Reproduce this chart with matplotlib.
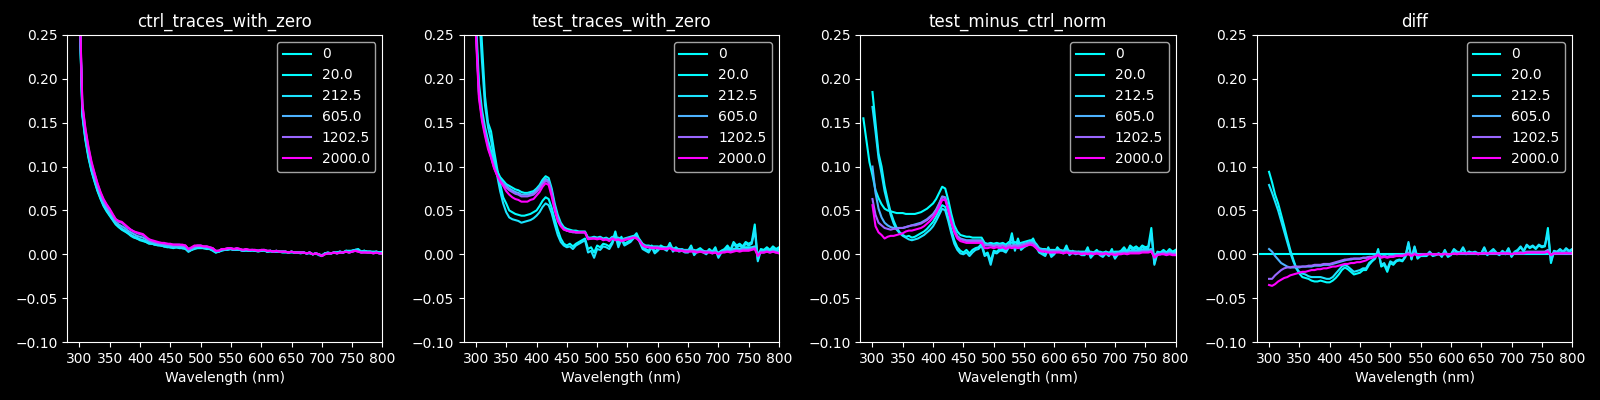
import numpy as np
import matplotlib
matplotlib.use("Agg")
import matplotlib.pyplot as plt

plt.style.use("dark_background")

# concentrations (legend) and wavelength grids
conc = [0, 20.0, 212.5, 605.0, 1202.5, 2000.0]
labels = ["0", "20.0", "212.5", "605.0", "1202.5", "2000.0"]
wl = np.arange(300, 805, 5)        # 300..800 nm
wl_long = np.arange(285, 805, 5)   # 285..800 nm

# all absorbance values below are in units of 1e-3
# ---- ctrl_traces_with_zero ----
c0 = [290, 160, 132, 112, 96, 84, 73, 64, 56, 50,
      45, 40, 35, 31, 29, 27, 24, 22, 20, 18,
      17, 16, 14, 13, 12, 11, 11, 10, 9, 9,
      8, 8, 8, 8, 7, 7, 3, 5, 7, 8,
      8, 7, 7, 6, 5, 2, 3, 5, 5, 6,
      6, 5, 6, 5, 4, 5, 4, 5, 4, 4,
      4, 5, 3, 4, 3, 4, 3, 3, 3, 2,
      3, 2, 2, 2, 2, 1, 2, 0, 1, 0,
      -2, 1, 2, 1, 2, 2, 3, 2, 4, 3,
      4, 5, 5, 3, 4, 3, 3, 2, 3, 2,
      2]
c20 = [285, 158, 130, 110, 95, 83, 72, 63, 55, 49,
       44, 39, 34, 31, 28, 26, 24, 21, 19, 18,
       16, 15, 14, 12, 12, 11, 10, 10, 9, 8,
       8, 7, 8, 7, 7, 6, 3, 5, 6, 7,
       7, 7, 6, 6, 4, 2, 3, 4, 5, 5,
       6, 5, 5, 5, 4, 4, 4, 4, 4, 3,
       4, 4, 3, 3, 3, 3, 3, 2, 2, 2,
       2, 2, 2, 1, 2, 1, 1, 0, 1, -1,
       -2, 1, 1, 1, 2, 2, 3, 2, 4, 4,
       4, 5, 6, 3, 4, 3, 3, 3, 3, 2,
       3]
c212 = [288, 162, 133, 113, 97, 85, 74, 65, 57, 51,
        45, 40, 36, 32, 29, 27, 25, 22, 20, 19,
        17, 16, 15, 13, 12, 11, 11, 10, 9, 9,
        8, 8, 8, 8, 7, 7, 4, 5, 7, 8,
        8, 7, 7, 6, 5, 3, 3, 5, 5, 6,
        6, 5, 6, 5, 4, 5, 4, 5, 4, 4,
        4, 5, 3, 4, 3, 3, 3, 3, 3, 2,
        3, 2, 2, 2, 2, 1, 2, 0, 1, 0,
        -1, 1, 2, 1, 2, 2, 3, 2, 4, 3,
        4, 5, 5, 3, 4, 3, 3, 2, 3, 2,
        2]
c605 = [295, 165, 137, 117, 100, 88, 77, 67, 59, 53,
        48, 43, 37, 34, 32, 30, 27, 25, 23, 21,
        20, 19, 17, 15, 14, 13, 12, 11, 11, 10,
        10, 9, 9, 9, 9, 8, 4, 6, 8, 9,
        9, 8, 8, 7, 6, 3, 4, 5, 5, 6,
        6, 5, 6, 5, 4, 5, 4, 5, 4, 4,
        4, 5, 3, 4, 3, 3, 3, 3, 3, 2,
        3, 2, 2, 2, 2, 1, 2, 0, 1, 0,
        -2, 1, 1, 1, 2, 1, 2, 2, 3, 2,
        3, 4, 4, 2, 3, 2, 2, 2, 2, 1,
        1]
c1202 = [298, 170, 142, 121, 104, 92, 80, 70, 62, 56,
         51, 45, 40, 37, 36, 33, 30, 28, 26, 24,
         23, 22, 19, 17, 15, 14, 13, 13, 12, 12,
         11, 11, 11, 11, 10, 10, 6, 7, 9, 10,
         10, 9, 9, 8, 7, 4, 4, 6, 6, 7,
         7, 6, 7, 6, 5, 6, 5, 5, 5, 4,
         5, 5, 4, 4, 3, 4, 3, 3, 3, 2,
         3, 2, 2, 2, 2, 1, 2, 0, 1, 0,
         -2, 0, 1, 1, 2, 1, 2, 2, 3, 2,
         3, 4, 3, 2, 2, 2, 2, 1, 2, 1,
         1]
c2000 = [300, 172, 144, 123, 106, 93, 81, 71, 63, 57,
         52, 46, 40, 38, 37, 34, 31, 28, 26, 25,
         24, 23, 20, 17, 16, 15, 14, 13, 13, 12,
         12, 11, 11, 11, 11, 10, 6, 8, 10, 10,
         10, 9, 9, 8, 7, 4, 4, 6, 6, 7,
         7, 6, 7, 6, 5, 6, 5, 5, 5, 4,
         5, 5, 4, 4, 3, 4, 3, 3, 3, 2,
         3, 2, 2, 2, 2, 1, 2, 0, 1, 0,
         -2, 0, 1, 1, 2, 1, 2, 2, 3, 2,
         3, 4, 3, 2, 2, 2, 2, 1, 2, 1,
         1]

# ---- test_traces_with_zero ----
t0 = [270, 195, 165, 145, 130, 118, 105, 95, 88, 84,
      80, 78, 76, 74, 73, 71, 70, 70, 71, 72,
      75, 79, 85, 89, 87, 75, 58, 45, 36, 31,
      29, 28, 27, 27, 26, 26, 26, 19, 19, 20,
      19, 20, 18, 19, 17, 20, 18, 19, 17, 18,
      19, 20, 21, 20, 17, 12, 10, 10, 9, 9,
      9, 8, 8, 8, 9, 7, 6, 6, 5, 5,
      5, 4, 5, 4, 4, 4, 3, 4, 3, 3,
      2, 4, 4, 5, 4, 6, 7, 6, 7, 8,
      8, 8, 9, 1, 4, 4, 5, 4, 5, 4,
      3]
t20 = [400, 300, 240, 180, 150, 140, 118, 98, 80, 65,
       58, 50, 48, 46, 45, 44, 44, 45, 46, 48,
       50, 55, 61, 65, 63, 53, 40, 28, 18, 12,
       10, 12, 9, 12, 14, 16, 18, 6, 8, 2,
       10, 8, 12, 11, 9, 14, 26, 12, 20, 12,
       14, 16, 20, 24, 16, 8, 6, 4, 10, 3,
       6, 10, 8, 6, 13, 5, 8, 5, 6, 4,
       4, 10, 1, 5, 7, 4, 2, 6, 3, 8,
       -2, 4, 6, 10, 5, 14, 10, 12, 9, 14,
       12, 14, 34, -6, 6, 5, 8, 5, 9, 6,
       8]
t212 = [360, 280, 220, 170, 145, 130, 110, 90, 72, 58,
        48, 42, 40, 39, 38, 36, 37, 38, 39, 41,
        44, 48, 54, 58, 56, 47, 34, 22, 14, 10,
        8, 9, 6, 10, 12, 14, 16, 2, 4, -4,
        6, 5, 9, 8, 6, 12, 22, 8, 17, 10,
        12, 14, 18, 22, 14, 6, 4, 2, 8, 1,
        4, 8, 6, 4, 11, 3, 6, 3, 4, 2,
        2, 8, -1, 3, 5, 2, 0, 4, 1, 6,
        -4, 2, 4, 8, 3, 12, 8, 10, 7, 12,
        10, 12, 28, -8, 4, 3, 6, 3, 7, 4,
        6]
t605 = [260, 185, 158, 140, 125, 112, 100, 91, 85, 81,
        78, 75, 73, 71, 70, 68, 68, 68, 69, 70,
        73, 77, 82, 86, 84, 72, 55, 42, 34, 29,
        27, 26, 26, 25, 25, 25, 25, 18, 18, 19,
        18, 19, 17, 18, 16, 19, 17, 18, 16, 17,
        18, 19, 20, 19, 16, 11, 9, 9, 8, 8,
        8, 7, 7, 7, 8, 6, 5, 5, 5, 4,
        4, 4, 4, 3, 4, 3, 3, 3, 2, 3,
        1, 3, 3, 4, 3, 5, 5, 5, 6, 6,
        6, 7, 8, 0, 3, 3, 4, 3, 4, 3,
        2]
t1202 = [255, 182, 155, 138, 123, 111, 99, 90, 84, 80,
         76, 73, 71, 69, 68, 66, 66, 66, 67, 68,
         71, 75, 80, 84, 82, 70, 53, 40, 33, 29,
         27, 26, 25, 25, 25, 25, 25, 18, 18, 18,
         18, 18, 17, 17, 16, 18, 17, 17, 16, 17,
         18, 18, 19, 19, 15, 11, 9, 8, 8, 8,
         8, 7, 7, 7, 7, 6, 5, 5, 4, 4,
         4, 4, 4, 3, 3, 3, 3, 3, 2, 2,
         1, 2, 3, 3, 3, 4, 4, 4, 5, 5,
         5, 6, 7, -1, 2, 2, 3, 2, 3, 2,
         2]
t2000 = [250, 178, 152, 135, 120, 110, 98, 90, 83, 78,
         72, 68, 65, 63, 62, 60, 60, 60, 62, 63,
         67, 71, 77, 81, 79, 66, 50, 38, 32, 28,
         27, 26, 26, 25, 25, 25, 25, 17, 18, 18,
         17, 18, 16, 17, 15, 18, 16, 17, 15, 16,
         17, 18, 19, 18, 15, 10, 8, 8, 7, 7,
         7, 6, 6, 6, 7, 5, 4, 4, 4, 3,
         3, 3, 3, 2, 3, 2, 2, 2, 1, 2,
         0, 2, 2, 3, 2, 3, 4, 3, 4, 4,
         4, 5, 6, -2, 2, 2, 3, 2, 3, 2,
         1]

# ---- test_minus_ctrl_norm ----
m0 = [155, 130, 105,
      90, 73, 64, 57, 52, 50, 49, 48, 47, 47,
      47, 46, 46, 46, 46, 47, 48, 50, 52, 55,
      58, 63, 70, 77, 75, 62, 46, 33, 26, 22,
      21, 20, 20, 19, 19, 19, 19, 13, 12, 13,
      12, 13, 12, 13, 11, 14, 13, 14, 12, 13,
      14, 15, 16, 15, 12, 7, 6, 6, 5, 5,
      5, 4, 5, 4, 5, 4, 3, 3, 3, 3,
      3, 2, 3, 2, 2, 3, 2, 3, 2, 2,
      3, 3, 3, 4, 3, 4, 5, 4, 5, 5,
      5, 5, 6, -2, 2, 2, 3, 2, 3, 2,
      2]
m20 = [185, 150, 115, 100, 78, 62, 48, 38, 30, 25,
       22, 20, 21, 19, 20, 22, 24, 26, 29, 33,
       37, 43, 50, 56, 54, 42, 28, 16, 8, 4,
       2, 5, 1, 5, 7, 8, 12, 0, 2, -8,
       4, 3, 6, 6, 4, 10, 24, 6, 18, 7,
       10, 12, 14, 18, 10, 3, 2, 0, 8, -1,
       2, 8, 4, 3, 10, 1, 4, 2, 3, 1,
       1, 8, -2, 2, 5, 1, -1, 3, 0, 6,
       -4, 2, 4, 8, 3, 10, 7, 9, 6, 10,
       8, 9, 30, -10, 3, 2, 5, 2, 6, 3,
       5]
m212 = [168, 140, 110, 92, 72, 58, 45, 35, 28, 24,
        21, 19, 17, 16, 17, 18, 20, 22, 25, 28,
        32, 38, 45, 52, 50, 38, 24, 12, 5, 1,
        0, 2, -2, 2, 5, 6, 10, -2, 0, -12,
        2, 1, 4, 4, 2, 8, 20, 4, 15, 5,
        8, 10, 12, 16, 8, 2, 0, -2, 6, -3,
        0, 6, 2, 1, 8, -1, 2, 0, 1, -1,
        -1, 6, -4, 0, 3, -1, -3, 1, -2, 4,
        -5, 0, 2, 6, 1, 8, 5, 7, 4, 8,
        6, 7, 24, -12, 1, 0, 3, 0, 4, 1,
        3]
m605 = [100, 70, 52, 42, 36, 33, 31, 30, 30, 30,
        30, 31, 32, 33, 34, 35, 36, 38, 40, 43,
        46, 51, 58, 66, 65, 53, 39, 28, 21, 18,
        17, 16, 16, 16, 16, 16, 16, 11, 11, 11,
        10, 11, 10, 11, 9, 11, 10, 11, 10, 11,
        12, 13, 14, 13, 10, 6, 5, 5, 4, 4,
        4, 4, 4, 3, 4, 3, 3, 3, 2, 2,
        2, 2, 2, 2, 2, 2, 1, 2, 1, 1,
        1, 2, 2, 2, 2, 3, 3, 3, 3, 4,
        4, 4, 5, -2, 1, 1, 2, 1, 2, 1,
        1]
m1202 = [63, 45, 36, 33, 30, 29, 28, 29, 29, 30,
         30, 31, 32, 33, 33, 34, 35, 37, 39, 42,
         45, 50, 57, 65, 64, 52, 38, 27, 20, 17,
         16, 15, 15, 15, 15, 15, 15, 10, 10, 10,
         9, 10, 9, 10, 8, 10, 9, 10, 9, 10,
         11, 12, 13, 12, 9, 5, 4, 4, 3, 3,
         3, 3, 3, 2, 3, 2, 2, 2, 2, 1,
         1, 1, 1, 1, 1, 1, 1, 1, 0, 1,
         0, 1, 1, 1, 1, 2, 2, 2, 2, 3,
         3, 3, 4, -3, 0, 0, 1, 0, 1, 0,
         0]
m2000 = [56, 32, 25, 22, 18, 20, 21, 21, 22, 23,
         24, 26, 27, 27, 28, 29, 30, 32, 35, 38,
         42, 47, 54, 62, 62, 50, 36, 25, 18, 15,
         14, 13, 13, 13, 13, 13, 13, 7, 7, 8,
         7, 8, 7, 8, 6, 8, 7, 8, 7, 8,
         9, 10, 11, 10, 7, 4, 3, 3, 2, 2,
         2, 2, 2, 1, 2, 1, 1, 1, 1, 0,
         1, 0, 1, 0, 1, 0, 0, 1, 0, 0,
         -1, 0, 0, 1, 0, 1, 1, 1, 1, 2,
         2, 2, 3, -4, -1, 0, 0, -1, 0, -1,
         -1]

# ---- diff ----
d0 = [0, 0, 0,
      0, 0, 0, 0, 0, 0, 0, 0, 0, 0,
      0, 0, 0, 0, 0, 0, 0, 0, 0, 0,
      0, 0, 0, 0, 0, 0, 0, 0, 0, 0,
      0, 0, 0, 0, 0, 0, 0, 0, 0, 0,
      0, 0, 0, 0, 0, 0, 0, 0, 0, 0,
      0, 0, 0, 0, 0, 0, 0, 0, 0, 0,
      0, 0, 0, 0, 0, 0, 0, 0, 0, 0,
      0, 0, 0, 0, 0, 0, 0, 0, 0, 0,
      0, 0, 0, 0, 0, 0, 0, 0, 0, 0,
      0, 0, 0, 0, 0, 0, 0, 0, 0, 0,
      0]
d20 = [94, 82, 68, 58, 45, 32, 18, 5, -6, -16,
       -22, -26, -27, -28, -30, -31, -31, -30, -31, -32,
       -32, -30, -27, -23, -18, -15, -17, -20, -23, -22,
       -21, -18, -18, -12, -8, -5, 6, -14, -12, -20,
       -10, -12, -8, -7, -8, -3, 12, -6, 8, -5,
       -2, -2, -2, 2, -2, -1, 1, -3, 4, -3,
       -1, 5, 2, 1, 7, 0, 3, 1, 2, 0,
       1, 7, -1, 2, 5, 1, -1, 3, 0, 6,
       -3, 2, 4, 8, 3, 10, 7, 9, 6, 10,
       8, 9, 30, -10, 3, 2, 5, 2, 6, 3,
       5]
d212 = [79, 70, 60, 50, 38, 26, 14, 2, -8, -16,
        -20, -22, -23, -25, -26, -26, -26, -26, -27, -28,
        -28, -26, -22, -18, -14, -12, -14, -17, -20, -19,
        -18, -16, -16, -10, -7, -4, 4, -12, -10, -17,
        -8, -10, -7, -6, -7, -2, 14, -5, 9, -4,
        -1, -1, -1, 3, -1, 0, 1, -2, 5, -2,
        0, 6, 3, 2, 8, 1, 3, 2, 3, 1,
        1, 8, 0, 3, 6, 2, 0, 4, 1, 7,
        -2, 3, 5, 9, 4, 11, 8, 10, 7, 11,
        9, 10, 24, -8, 4, 3, 6, 3, 7, 4,
        6]
d605 = [6, 3, -2, -6, -10, -12, -14, -15, -15, -15,
        -15, -14, -14, -14, -14, -13, -13, -13, -12, -12,
        -12, -11, -10, -9, -8, -7, -6, -6, -5, -5,
        -5, -4, -4, -3, -3, -2, 0, -3, -2, -3,
        -2, -2, -1, -1, -1, 0, 2, -1, 1, -1,
        0, 0, 0, 1, 0, 0, 0, 0, 1, 0,
        0, 1, 1, 1, 2, 1, 1, 1, 1, 1,
        1, 2, 1, 1, 2, 1, 1, 1, 1, 2,
        0, 1, 2, 2, 2, 3, 3, 3, 3, 3,
        3, 3, 5, -1, 2, 2, 2, 2, 2, 2,
        2]
d1202 = [-28, -28, -24, -21, -18, -16, -15, -15, -14, -14,
         -14, -14, -14, -13, -13, -12, -12, -12, -11, -11,
         -11, -10, -9, -8, -7, -6, -6, -5, -5, -5,
         -5, -4, -4, -3, -3, -2, 0, -3, -2, -3,
         -2, -2, -1, -1, -1, 0, 1, -1, 1, -1,
         0, 0, 0, 1, 0, 0, 0, 0, 1, 0,
         0, 1, 1, 1, 1, 1, 1, 1, 1, 1,
         1, 1, 1, 1, 1, 1, 1, 1, 1, 1,
         0, 1, 1, 2, 1, 2, 2, 2, 2, 2,
         2, 2, 4, -1, 1, 1, 1, 1, 2, 1,
         1]
d2000 = [-35, -36, -34, -31, -29, -27, -26, -24, -23, -22,
         -21, -20, -20, -19, -18, -18, -17, -17, -16, -16,
         -15, -14, -14, -13, -12, -11, -11, -10, -10, -9,
         -9, -8, -7, -5, -4, -3, -1, -4, -3, -4,
         -3, -3, -2, -2, -2, -1, 0, -2, 0, -1,
         -1, 0, 0, 0, 0, 0, 0, 0, 0, 0,
         0, 1, 0, 1, 1, 1, 1, 1, 1, 0,
         1, 1, 1, 1, 1, 1, 1, 1, 1, 1,
         0, 1, 1, 1, 1, 2, 2, 2, 2, 2,
         2, 2, 3, -1, 1, 1, 1, 1, 1, 1,
         1]

panels = [
    ("ctrl_traces_with_zero", [c0, c20, c212, c605, c1202, c2000]),
    ("test_traces_with_zero", [t0, t20, t212, t605, t1202, t2000]),
    ("test_minus_ctrl_norm", [m0, m20, m212, m605, m1202, m2000]),
    ("diff", [d0, d20, d212, d605, d1202, d2000]),
]

fig, axes = plt.subplots(1, 4, figsize=(16, 4), dpi=100)
fig.subplots_adjust(left=0.042, right=0.9826, bottom=0.145, top=0.9125, wspace=0.258)

for ax, (title, traces) in zip(axes, panels):
    for c, lab, y in zip(conc, labels, traces):
        y = np.array(y) / 1000.0
        x = wl_long if len(y) == len(wl_long) else wl
        ax.plot(x, y, color=plt.cm.cool(c / max(conc)), label=lab)
    ax.set_title(title)
    ax.set_xlabel("Wavelength (nm)")
    ax.set_xlim(280, 800)
    ax.set_ylim(-0.1, 0.25)
    ax.set_xticks(np.arange(300, 801, 50))
    ax.legend(loc="upper right")

plt.savefig("out.png")
